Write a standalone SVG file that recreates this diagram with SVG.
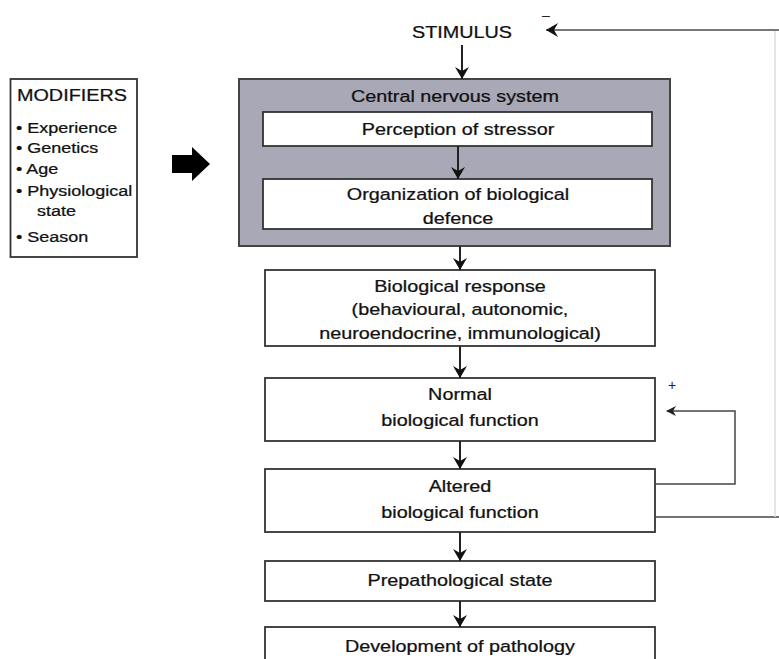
<svg xmlns="http://www.w3.org/2000/svg" width="779" height="659" viewBox="0 0 779 659">
<defs>
<style>
.box{fill:#fff;stroke:#333;stroke-width:1.8}
.cns{fill:#a9a8b6;stroke:#444;stroke-width:2}
.t{font-family:"Liberation Sans",Arial,sans-serif;font-size:16.5px;fill:#111;stroke:#111;stroke-width:0.25;text-anchor:middle;transform-box:fill-box;transform-origin:center;transform:scaleX(1.2)}
.m{font-family:"Liberation Sans",Arial,sans-serif;font-size:15px;fill:#111;stroke:#111;stroke-width:0.25;transform-box:fill-box;transform-origin:left;transform:scaleX(1.2)}
.s{font-family:"Liberation Sans",Arial,sans-serif;font-size:14px;fill:#222;text-anchor:middle}
.ln{fill:none;stroke:#222;stroke-width:2}
.fb{fill:none;stroke:#444;stroke-width:1.5}
</style>
<marker id="ah" viewBox="0 0 12 16" refX="12" refY="8" markerWidth="12" markerHeight="16" markerUnits="userSpaceOnUse" orient="auto">
<path d="M0,1 L12,8 L0,15 L4,8 Z" fill="#111"/>
</marker>
<marker id="as" viewBox="0 0 10 10" refX="9" refY="5" markerWidth="10" markerHeight="10" markerUnits="userSpaceOnUse" orient="auto">
<path d="M0,0 L10,5 L0,10 L3,5 Z" fill="#222"/>
</marker>
</defs>

<g id="stimulus">
<text class="t" x="462" y="38">STIMULUS</text>
</g>

<g id="modifiers">
<rect class="box" x="10.5" y="79" width="126.5" height="178" stroke-width="2.2"/>
<text class="m" x="17" y="101" style="font-size:16.5px">MODIFIERS</text>
<text class="m" x="16" y="133">• Experience</text>
<text class="m" x="16" y="153">• Genetics</text>
<text class="m" x="16" y="174">• Age</text>
<text class="m" x="16" y="196">• Physiological</text>
<text class="m" x="37" y="216">state</text>
<text class="m" x="16" y="242">• Season</text>
</g>

<g id="modifier-arrow">
<path d="M172,155 H192 V147 L210,164 L192,181 V173 H172 Z" fill="#000"/>
</g>

<g id="cns">
<rect class="cns" x="239" y="79" width="431" height="167"/>
<text class="t" x="455" y="102">Central nervous system</text>
</g>

<g id="perception">
<rect class="box" x="263" y="112" width="389" height="34"/>
<text class="t" x="458" y="135">Perception of stressor</text>
</g>

<g id="organization">
<rect class="box" x="263" y="179" width="389" height="50"/>
<text class="t" x="458" y="200">Organization of biological</text>
<text class="t" x="458" y="224">defence</text>
</g>

<g id="bio-response">
<rect class="box" x="265" y="270" width="390" height="76"/>
<text class="t" x="460" y="292">Biological response</text>
<text class="t" x="460" y="315">(behavioural, autonomic,</text>
<text class="t" x="460" y="339">neuroendocrine, immunological)</text>
</g>

<g id="normal">
<rect class="box" x="265" y="378" width="390" height="63"/>
<text class="t" x="460" y="400">Normal</text>
<text class="t" x="460" y="426">biological function</text>
</g>

<g id="altered">
<rect class="box" x="265" y="469" width="390" height="63"/>
<text class="t" x="460" y="492">Altered</text>
<text class="t" x="460" y="518">biological function</text>
</g>

<g id="prepathological">
<rect class="box" x="265" y="561" width="390" height="40"/>
<text class="t" x="460" y="586">Prepathological state</text>
</g>

<g id="pathology">
<rect class="box" x="265" y="627" width="390" height="45"/>
<text class="t" x="460" y="652">Development of pathology</text>
</g>

<g id="connectors">
<line class="ln" x1="462" y1="45" x2="462" y2="79" marker-end="url(#ah)"/>
<line class="ln" x1="458" y1="146" x2="458" y2="179" marker-end="url(#ah)"/>
<line class="ln" x1="460" y1="246" x2="460" y2="270" marker-end="url(#ah)"/>
<line class="ln" x1="460" y1="346" x2="460" y2="378" marker-end="url(#ah)"/>
<line class="ln" x1="460" y1="441" x2="460" y2="469" marker-end="url(#ah)"/>
<line class="ln" x1="460" y1="532" x2="460" y2="561" marker-end="url(#ah)"/>
<line class="ln" x1="460" y1="601" x2="460" y2="627" marker-end="url(#ah)"/>
<path class="fb" d="M655,484 H735 V411 H667" marker-end="url(#as)"/>
<path class="fb" d="M655,517 H779"/>
<line x1="775" y1="517" x2="775" y2="30" stroke="#ddd" stroke-width="1.5"/>
<line x1="779" y1="30" x2="546" y2="30" stroke="#777" stroke-width="2.2" marker-end="url(#ah)"/>
<text class="s" x="672" y="390">+</text>
<text class="s" x="546" y="20">–</text>
</g>
</svg>
